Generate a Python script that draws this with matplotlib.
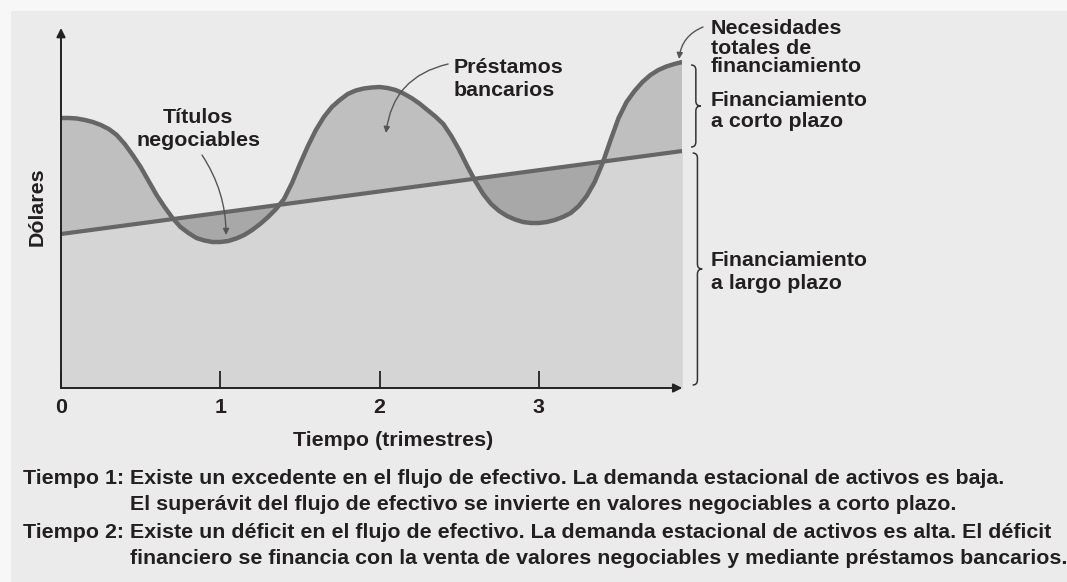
import numpy as np
import matplotlib
matplotlib.use("Agg")
import matplotlib.pyplot as plt
from matplotlib.patches import Rectangle, PathPatch
from matplotlib.path import Path

# seasonal total financing needs (time in quarters, dollars)
t = [0.00, 0.05, 0.10, 0.15, 0.20, 0.25, 0.30, 0.35, 0.40, 0.45,
     0.50, 0.55, 0.60, 0.65, 0.70, 0.75, 0.80, 0.85, 0.90, 0.95,
     1.00, 1.05, 1.10, 1.15, 1.20, 1.25, 1.30, 1.35, 1.40, 1.45,
     1.50, 1.55, 1.60, 1.65, 1.70, 1.75, 1.80, 1.85, 1.90, 1.95,
     2.00, 2.05, 2.10, 2.15, 2.20, 2.25, 2.30, 2.35, 2.40, 2.45,
     2.50, 2.55, 2.60, 2.65, 2.70, 2.75, 2.80, 2.85, 2.90, 2.95,
     3.00, 3.05, 3.10, 3.15, 3.20, 3.25, 3.30, 3.35, 3.40, 3.45,
     3.50, 3.55, 3.60, 3.65, 3.70, 3.75, 3.80, 3.85, 3.90]
needs = [270, 270, 269.5, 268, 266, 263, 259, 253, 244, 233,
         221, 207, 193, 181, 170, 161, 155, 150, 147.5, 146,
         146, 147, 149.5, 153, 158, 164, 171, 179, 189, 205,
         224, 242, 258, 271, 281, 288, 294, 297.5, 299.5, 300.5,
         301, 300, 298, 294.5, 290, 284.5, 278, 271.5, 264, 252,
         238, 222, 207, 194, 184, 177, 172, 168.5, 166, 165,
         165, 166, 168, 171, 175, 182, 192, 206, 225, 248,
         270, 286, 297, 306, 313, 318, 321.5, 324, 326]
# permanent (long-term) financing line, end points
trend_t = [0.0, 3.9]
trend_v = [154, 237]

xticks = [0, 1, 2, 3]

W, H = 1067, 582
TXT = "#231f20"
CURVE = "#666666"

plt.rcParams['font.family'] = ['Liberation Sans', 'DejaVu Sans']
plt.rcParams['font.weight'] = 'bold'

fig = plt.figure(figsize=(W / 100, H / 100), dpi=100)
fig.patch.set_facecolor("#f7f7f7")
fig.patches.append(Rectangle((11 / W, 0), 1, 1 - 11 / H, transform=fig.transFigure,
                             facecolor="#ebebeb", edgecolor="none", zorder=-10))


def px(x, y):
    return x / W, 1 - y / H


ax = fig.add_axes([61 / W, 194 / H, 621.3 / W, 360 / H])
ax.set_facecolor("none")
ax.set_xlim(0, 3.9)
ax.set_ylim(0, 360)
for s in ax.spines.values():
    s.set_visible(False)

t = np.array(t)
needs = np.array(needs)
trend = np.interp(t, trend_t, trend_v)

ax.fill_between(t, 0, trend, color="#d5d5d5", lw=0, zorder=1)
ax.fill_between(t, trend, needs, where=needs >= trend, interpolate=True,
                color="#bfbfbf", lw=0, zorder=1)
ax.fill_between(t, needs, trend, where=needs < trend, interpolate=True,
                color="#a8a8a8", lw=0, zorder=1)
ax.plot(t, needs, color=CURVE, lw=3.2, zorder=3, solid_capstyle="butt",
        solid_joinstyle="round")
ax.plot(trend_t, trend_v, color=CURVE, lw=3.0, zorder=3, solid_capstyle="butt")

# axes with arrow heads
arr = dict(arrowstyle="-|>", color="#222222", lw=1.4, mutation_scale=13,
           shrinkA=0, shrinkB=0)
ax.annotate("", xy=(3.9, 0), xytext=(0, 0), arrowprops=arr, annotation_clip=False, zorder=4)
ax.annotate("", xy=(0, 360), xytext=(0, 0), arrowprops=arr, annotation_clip=False, zorder=4)

fs = 15.4

ax.set_xticks(xticks)
ax.set_xticklabels([str(v) for v in xticks], fontsize=fs, color=TXT)
ax.tick_params(axis="x", direction="in", length=12, width=1.3, color="#222222", pad=7)
ax.set_yticks([])

# annotation arrows
thin = dict(arrowstyle="-|>", color="#555555", lw=1.0, mutation_scale=9,
            shrinkA=0, shrinkB=0)
ax.annotate("", xy=(1.036, 153), xytext=(0.885, 233),
            arrowprops=dict(thin, connectionstyle="arc3,rad=-0.15"), annotation_clip=False)
ax.annotate("", xy=(2.04, 255), xytext=(2.43, 324),
            arrowprops=dict(thin, connectionstyle="arc3,rad=0.35"), annotation_clip=False)
ax.annotate("", xy=(3.88, 329), xytext=(4.03, 361),
            arrowprops=dict(thin, connectionstyle="arc3,rad=0.3"), annotation_clip=False)


# braces on the right
def brace(x0, top, bot, dx=0.03, dy=5):
    mid = (top + bot) / 2
    verts = [(x0 - dx, top), (x0, top), (x0, top - dy),
             (x0, mid + dy),
             (x0, mid), (x0 + dx, mid),
             (x0, mid), (x0, mid - dy),
             (x0, bot + dy),
             (x0, bot), (x0 - dx, bot)]
    codes = [Path.MOVETO, Path.CURVE3, Path.CURVE3, Path.LINETO,
             Path.CURVE3, Path.CURVE3, Path.CURVE3, Path.CURVE3,
             Path.LINETO, Path.CURVE3, Path.CURVE3]
    ax.add_patch(PathPatch(Path(verts, codes), fill=False, edgecolor="#333333",
                           lw=1.1, clip_on=False))


brace(3.985, needs[-1] - 3, trend_v[-1] + 4)
brace(3.995, trend_v[-1] - 2, 3)

fig.text(*px(37, 207), "Dólares", rotation=90, ha="center", va="center", fontsize=fs, color=TXT)
fig.text(*px(198, 129), "Títulos\nnegociables", ha="center", va="center", fontsize=fs,
         color=TXT, linespacing=1.3)
fig.text(*px(454, 79), "Préstamos\nbancarios", ha="left", va="center", fontsize=fs,
         color=TXT, linespacing=1.3)
fig.text(*px(711, 48), "Necesidades\ntotales de\nfinanciamiento", ha="left", va="center",
         fontsize=fs, color=TXT, linespacing=1.0)
fig.text(*px(711, 111), "Financiamiento\na corto plazo", ha="left", va="center",
         fontsize=fs, color=TXT, linespacing=1.15)
fig.text(*px(711, 272), "Financiamiento\na largo plazo", ha="left", va="center",
         fontsize=fs, color=TXT, linespacing=1.3)
fig.text(*px(393, 440), "Tiempo (trimestres)", ha="center", va="center", fontsize=fs, color=TXT)

fig.text(*px(23, 478), "Tiempo 1:", ha="left", va="center", fontsize=fs, color=TXT)
fig.text(*px(130, 478), "Existe un excedente en el flujo de efectivo. La demanda estacional de activos es baja.",
         ha="left", va="center", fontsize=fs, color=TXT)
fig.text(*px(130, 504), "El superávit del flujo de efectivo se invierte en valores negociables a corto plazo.",
         ha="left", va="center", fontsize=fs, color=TXT)
fig.text(*px(23, 533), "Tiempo 2:", ha="left", va="center", fontsize=fs, color=TXT)
fig.text(*px(130, 533), "Existe un déficit en el flujo de efectivo. La demanda estacional de activos es alta. El déficit",
         ha="left", va="center", fontsize=fs, color=TXT)
fig.text(*px(130, 559), "financiero se financia con la venta de valores negociables y mediante préstamos bancarios.",
         ha="left", va="center", fontsize=fs, color=TXT)

fig.savefig("out.png", dpi=100, facecolor=fig.get_facecolor())
